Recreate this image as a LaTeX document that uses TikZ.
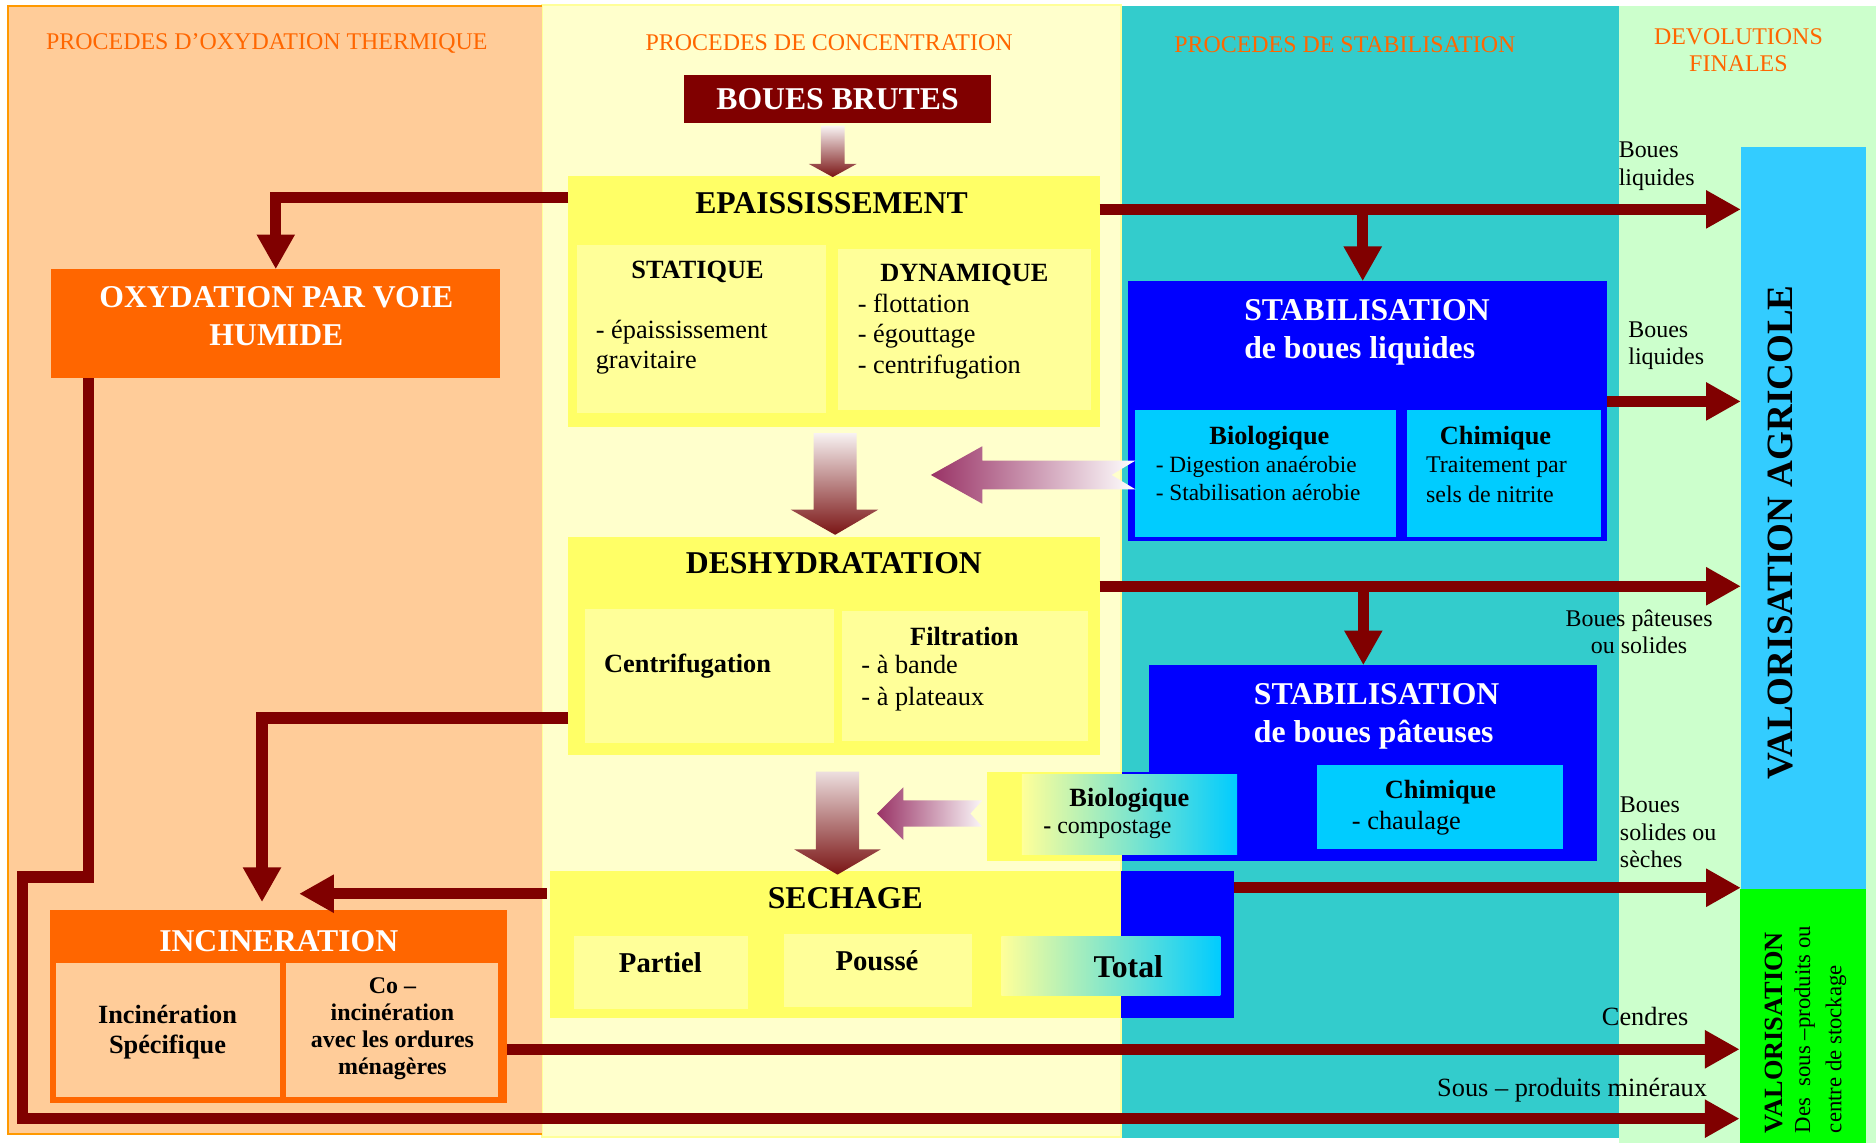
\documentclass[tikz,border=0pt]{standalone}
\usepackage{fontspec}
\setmainfont{Liberation Serif}
\usepackage{xcolor}
\usetikzlibrary{arrows.meta,positioning}

\definecolor{peach}{HTML}{FFCC99}
\definecolor{creamcol}{HTML}{FFFFCC}
\definecolor{tealcol}{HTML}{33CCCC}
\definecolor{mintcol}{HTML}{CCFFCC}
\definecolor{sludge}{HTML}{800000}
\definecolor{stepyellow}{HTML}{FFFF66}
\definecolor{subyellow}{HTML}{FFFF99}
\definecolor{fireorange}{HTML}{FF6600}
\definecolor{rimorange}{HTML}{FF9900}
\definecolor{stabblue}{HTML}{0000FF}
\definecolor{subcyan}{HTML}{00CCFF}
\definecolor{agricyan}{HTML}{33CCFF}
\definecolor{byprodgreen}{HTML}{00FF00}
\definecolor{mauve}{HTML}{993366}
\definecolor{dusk}{HTML}{C9B5BC}
\definecolor{tipred}{HTML}{7A1414}

\begin{document}
\begin{tikzpicture}[x=1pt, y=-1pt,
    every node/.style = {inner sep=0pt, outer sep=0pt},
    zone/.style = {rectangle, anchor=north west},
    flow/.style = {draw=sludge, line width=9.5pt,
      -{Triangle[length=29pt, width=30pt]}},
    fade/.style = {top color=white, middle color=dusk, bottom color=tipred},
    head/.style = {text=fireorange, align=center,
      font=\fontsize{20}{23}\selectfont},
    bigtitle/.style = {align=left, font=\fontsize{26.5}{32}\selectfont\bfseries},
    subtitle/.style = {align=center, font=\fontsize{22}{25}\selectfont\bfseries},
    body/.style = {align=left, font=\fontsize{22}{25.5}\selectfont},
    small/.style = {align=left, font=\fontsize{20}{23}\selectfont}]

    \fill[white] (0,0) rectangle (1568,955);
    \useasboundingbox (0,0) rectangle (1568,955);
    \fill[mintcol] (1353,5) rectangle (1568,955);
    \fill[tealcol] (937,5) rectangle (1353,951);
    \filldraw[fill=creamcol, draw=subyellow, line width=1.5pt] (453,4) rectangle (937,950);
    \fill[peach] (7,5) rectangle (453,948);
    \draw[rimorange, line width=1.5pt] (453,5) -- (7,5) -- (7,948) -- (453,948);

    \node[head] (hdOxy) at (223,36) {PROCEDES D’OXYDATION THERMIQUE};
    \node[head] (hdConc) at (693,36) {PROCEDES DE CONCENTRATION};
    \node[head] (hdStab) at (1124,37) {PROCEDES DE STABILISATION};
    \node[head] (hdDevol) at (1453,42) {DEVOLUTIONS\\FINALES};

    \node[zone, fill=sludge, minimum width=256, minimum height=40, text=white,
      font=\fontsize{26.5}{30}\selectfont\bfseries] (brutes) at (572,63) {BOUES BRUTES};

    \node[zone, fill=stepyellow, minimum width=444, minimum height=210] (epais) at (475,147) {};
    \node[zone, fill=subyellow, minimum width=208, minimum height=140] (statique) at (482,205) {};
    \node[zone, fill=subyellow, minimum width=212, minimum height=135] (dynamique) at (700,208) {};
    \node[bigtitle, below=14pt of epais.north, xshift=-2pt] (epaisT) {EPAISSISSEMENT};
    \node[subtitle] (statT) at (583,227) {STATIQUE};
    \node[body, anchor=west] (statL) at (498,290) {- épaississement\\gravitaire};
    \node[subtitle] (dynT) at (806,230) {DYNAMIQUE};
    \node[body, anchor=west] (dynL) at (717,281) {- flottation\\- égouttage\\- centrifugation};

    \node[zone, fill=fireorange, minimum width=375, minimum height=91] (oxyd) at (43,225) {};
    \node[bigtitle, align=center, text=white] (oxydT) at (231,264) {OXYDATION PAR VOIE\\HUMIDE};

    \node[zone, fill=stepyellow, minimum width=444, minimum height=182] (deshyd) at (475,449) {};
    \node[zone, fill=subyellow, minimum width=208, minimum height=112] (centrif) at (489,509) {};
    \node[zone, fill=subyellow, minimum width=205, minimum height=108] (filtr) at (704,511) {};
    \node[bigtitle, below=13pt of deshyd.north] (deshydT) {DESHYDRATATION};
    \node[subtitle, anchor=west] (centrifT) at (505,557) {Centrifugation};
    \node[subtitle] (filtrT) at (806,532) {Filtration};
    \node[body, anchor=west, font=\fontsize{22}{27}\selectfont] (filtrL) at (720,571) {- à bande\\- à plateaux};

    \node[zone, fill=stepyellow, minimum width=477, minimum height=123] (sechage) at (460,728) {};
    \node[zone, fill=stabblue, minimum width=94, minimum height=123] (sechBlue) at (937,728) {};
    \node[zone, fill=subyellow, minimum width=145, minimum height=61] (partiel) at (480,782) {};
    \node[zone, fill=subyellow, minimum width=157, minimum height=61] (pousse) at (655,781) {};
    \node[zone, left color=subyellow, right color=subcyan, minimum width=183, minimum height=49] (total) at (837,783) {};
    \node[bigtitle, below=14pt of sechage.north, xshift=8pt] (sechageT) {SECHAGE};
    \node[font=\fontsize{24}{28}\selectfont\bfseries] (partielT) at (552,805) {Partiel};
    \node[font=\fontsize{24}{28}\selectfont\bfseries] (pousseT) at (733,803) {Poussé};
    \node[bigtitle] (totalT) at (943,808) {Total};

    \node[zone, fill=fireorange, minimum width=382, minimum height=161] (incin) at (42,761) {};
    \node[zone, fill=peach, minimum width=187, minimum height=112] (incSpec) at (47,805) {};
    \node[zone, fill=peach, minimum width=177, minimum height=112] (incCo) at (239,805) {};
    \node[bigtitle, text=white, below=17pt of incin.north] (incinT) {INCINERATION};
    \node[subtitle] (incSpecT) at (140,863) {Incinération\\Spécifique};
    \node[align=center, font=\fontsize{20}{22.7}\selectfont\bfseries] (incCoT) at (328,860)
      {Co –\\incinération\\avec les ordures\\ménagères};

    \node[zone, fill=stabblue, minimum width=400, minimum height=217] (stabLiq) at (943,235) {};
    \node[zone, fill=subcyan, minimum width=218, minimum height=106] (bioLiq) at (949,343) {};
    \node[zone, fill=subcyan, minimum width=162, minimum height=106] (chimLiq) at (1176,343) {};
    \node[bigtitle, text=white, anchor=west] (stabLiqT) at (1040,278) {STABILISATION\\de boues liquides};
    \node[subtitle] (bioLiqT) at (1061,366) {Biologique};
    \node[align=left, font=\fontsize{19.5}{24}\selectfont, anchor=west] (bioLiqL) at (966,400)
      {- Digestion anaérobie\\- Stabilisation aérobie};
    \node[subtitle] (chimLiqT) at (1250,366) {Chimique};
    \node[small, anchor=west, font=\fontsize{20}{24.5}\selectfont] (chimLiqL) at (1192,401) {Traitement par\\sels de nitrite};

    \node[zone, fill=stabblue, minimum width=375, minimum height=164] (stabPat) at (960,556) {};
    \node[zone, fill=stepyellow, minimum width=113, minimum height=75] (bioPatBg) at (825,645) {};
    \fill[stabblue] (938,645) rectangle (961,720);
    \node[zone, left color=subyellow, right color=subcyan, minimum width=180, minimum height=67] (bioPat) at (854,647) {};
    \node[zone, fill=subcyan, minimum width=205, minimum height=71] (chimPat) at (1101,639) {};
    \node[bigtitle, text=white, anchor=west] (stabPatT) at (1048,599) {STABILISATION\\de boues pâteuses};
    \node[subtitle] (bioPatT) at (944,669) {Biologique};
    \node[small, anchor=west] (bioPatL) at (872,693) {\textbf{-} compostage};
    \node[subtitle] (chimPatT) at (1204,662) {Chimique};
    \node[body, anchor=west] (chimPatL) at (1130,688) {- chaulage};

    \node[zone, fill=agricyan, minimum width=105, minimum height=620] (valAgri) at (1455,123) {};
    \node[zone, fill=byprodgreen, minimum width=106, minimum height=212] (valSous) at (1454,743) {};
    \node[rotate=90, font=\fontsize{31}{36}\selectfont\bfseries] (valAgriT) at (1488,445) {VALORISATION AGRICOLE};
    \node[rotate=90, anchor=base west, font=\fontsize{22}{26}\selectfont\bfseries] (valSousT) at (1490,947) {VALORISATION};
    \node[rotate=90, anchor=base west, font=\fontsize{19}{22}\selectfont] (valSousA) at (1513,947) {Des\ \ sous –produits ou};
    \node[rotate=90, anchor=base west, font=\fontsize{19}{22}\selectfont] (valSousB) at (1539,947) {centre de stockage};

    \node[small, anchor=west] (lblLiqA) at (1353,139) {Boues\\liquides};
    \node[small, anchor=west] (lblLiqB) at (1361,289) {Boues\\liquides};
    \node[small, align=center] (lblPat) at (1370,528) {Boues pâteuses\\ou solides};
    \node[small, anchor=west] (lblSec) at (1354,696) {Boues\\solides ou\\sèches};
    \node[body] (lblCend) at (1375,850) {Cendres};
    \node[body] (lblSous) at (1314,911) {Sous – produits minéraux};

    \coordinate[left=4pt of stabLiq.north] (liqIn);
    \coordinate[left=8pt of stabPat.north] (patIn);
    \coordinate[left=14pt of incin.north] (incIn);
    \coordinate (mergeTip) at (250,747);
    \coordinate (sousCorner) at (19,935);

    \shade[fade]
      (brutes.south) ++(-14,2) -- ++(20,0) -- ++(0,32) -- ++(10,0)
      -- ++(-20,11) -- ++(-20,-11) -- ++(10,0) -- cycle;
    \shade[fade]
      (epais.south) ++(-17,5) -- ++(36,0) -- ++(0,64) -- ++(18,0)
      -- ++(-36,21) -- ++(-37,-21) -- ++(19,0) -- cycle;
    \shade[fade]
      (deshyd.south) ++(-15,14) -- ++(36,0) -- ++(0,65) -- ++(18,0)
      -- ++(-36,21) -- ++(-36,-21) -- ++(18,0) -- cycle;
    \shade[left color=mauve, right color=white]
      (bioLiq.west) ++(0,-11) -- ++(-128,0) -- ++(0,-12) -- ++(-43,24)
      -- ++(43,24) -- ++(0,-12) -- ++(128,0) -- ++(-20,-12) -- cycle;
    \shade[left color=mauve, right color=white]
      (bioPatBg.west) ++(-4,-13.5) -- ++(-66,0) -- ++(0,-11) -- ++(-22,22)
      -- ++(22,22) -- ++(0,-11) -- ++(66,0) -- ++(-10,-11) -- cycle;

    \draw[flow] (epais.north west) ++(0,18) -| (oxyd.north);
    \draw[flow] (epais.north east) ++(0,28) coordinate (epaisOut) -- (epaisOut -| valAgri.west);
    \draw[flow] (epaisOut -| liqIn) -- (liqIn);
    \draw[flow] (stabLiq.east) ++(0,-8) coordinate (liqOut) -- (liqOut -| valAgri.west);
    \draw[flow] (deshyd.north east) ++(0,41) coordinate (deshOut) -- (deshOut -| valAgri.west);
    \draw[flow] (deshOut -| patIn) -- (patIn);
    \draw[flow] (sechBlue.north east) ++(0,14) coordinate (secOut) -- (secOut -| valAgri.west);
    \draw[flow] (incin.south east) ++(0,-45) coordinate (cendOut) -- (cendOut -| valSous.west);
    \draw[flow] (oxyd.south west) ++(31,0) -- ++(0,417) -| (sousCorner) -- (sousCorner -| valSous.west);
    \draw[flow, shorten >=7pt] (deshyd.south west) ++(0,-31) -| (incIn);
    \draw[flow] (sechage.north west) ++(-3,19) -- (mergeTip);
\end{tikzpicture}
\end{document}
